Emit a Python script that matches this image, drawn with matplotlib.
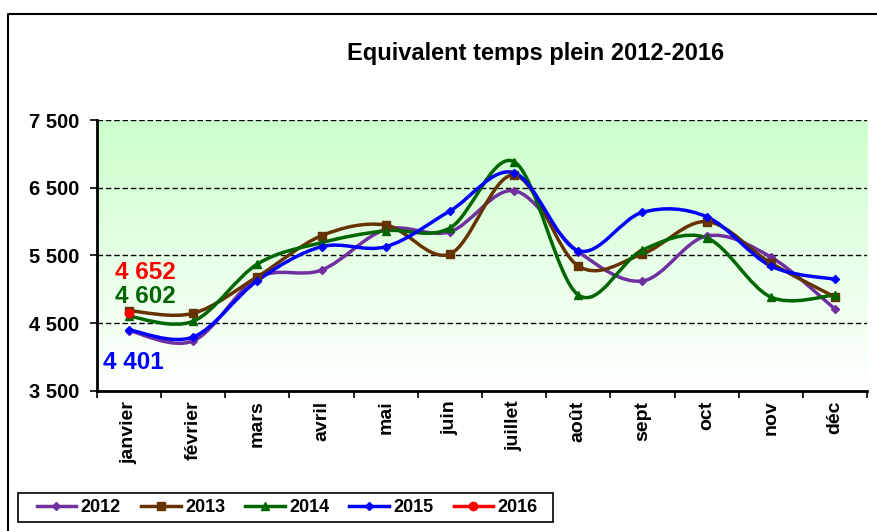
import numpy as np
import matplotlib
matplotlib.use("Agg")
import matplotlib.pyplot as plt
from matplotlib.path import Path
from matplotlib.patches import PathPatch, Rectangle
from matplotlib.lines import Line2D
from matplotlib.colors import LinearSegmentedColormap

plt.rcParams['font.family'] = ['Liberation Sans', 'DejaVu Sans']
plt.rcParams['font.weight'] = 'bold'

months = ['janvier', 'février', 'mars', 'avril', 'mai', 'juin',
          'juillet', 'août', 'sept', 'oct', 'nov', 'déc']

etp_2012 = [4390, 4240, 5170, 5285, 5885, 5850, 6456, 5556, 5124, 5788, 5478, 4710]
etp_2013 = [4685, 4647, 5187, 5792, 5950, 5522, 6688, 5345, 5522, 6000, 5389, 4887]
etp_2014 = [4602, 4530, 5374, 5690, 5866, 5906, 6884, 4917, 5580, 5760, 4887, 4917]
etp_2015 = [4401, 4297, 5128, 5630, 5630, 6157, 6722, 5570, 6137, 6073, 5345, 5148]
etp_2016 = [4652]

series = [
    ('2012', etp_2012, '#7030A0', 'D', 4),
    ('2013', etp_2013, '#663300', 's', 6),
    ('2014', etp_2014, '#006600', '^', 6),
    ('2015', etp_2015, '#0000FF', 'D', 4),
    ('2016', etp_2016, '#FF0000', 'o', 6),
]

y_ticks = [3500, 4500, 5500, 6500, 7500]


def smooth_path(xs, ys):
    # Excel-like smoothed line: cubic Bezier through each point
    pts = np.column_stack([xs, ys]).astype(float)
    n = len(pts)
    verts = [pts[0]]
    codes = [Path.MOVETO]
    for i in range(n - 1):
        p0 = pts[i - 1] if i > 0 else pts[i]
        p1 = pts[i]
        p2 = pts[i + 1]
        p3 = pts[i + 2] if i + 2 < n else pts[i + 1]
        c1 = p1 + (p2 - p0) / 6.0
        c2 = p2 - (p3 - p1) / 6.0
        verts += [c1, c2, p2]
        codes += [Path.CURVE4] * 3
    return Path(verts, codes)


fig = plt.figure(figsize=(8.77, 5.31), dpi=100)
ax = fig.add_axes([0.1106, 0.2637, 0.878, 0.5103])

# green -> white background
cmap = LinearSegmentedColormap.from_list('bg', ['#FFFFFF', '#CCFFCC'])
grad = np.linspace(0, 1, 256).reshape(-1, 1)
ax.imshow(grad, cmap=cmap, origin='lower', aspect='auto',
          extent=[-0.5, 11.5, 3500, 7500], zorder=0)

for yv in y_ticks[1:]:
    ax.axhline(yv, color='black', lw=1, ls=(0, (4, 2)), zorder=1)

handles = []
for name, vals, col, mk, ms in series:
    x = np.arange(len(vals))
    if len(vals) > 1:
        ax.add_patch(PathPatch(smooth_path(x, vals), facecolor='none',
                               edgecolor=col, lw=2.5, zorder=3))
    ax.plot(x, vals, ls='none', marker=mk, ms=ms, color=col, zorder=4)
    handles.append(Line2D([], [], color=col, lw=2.5, marker=mk, ms=ms))

ax.set_xlim(-0.5, 11.5)
ax.set_ylim(3500, 7500)

ax.set_xticks(np.arange(-0.5, 12, 1))
ax.set_xticklabels([])
ax.set_xticks(np.arange(12), minor=True)
ax.set_xticklabels(months, minor=True, rotation=90, fontsize=14, fontweight='bold')
ax.tick_params(axis='x', which='major', length=5, width=1.2, direction='out')
ax.tick_params(axis='x', which='minor', length=0, pad=7)

ax.set_yticks(y_ticks)
ax.set_yticklabels([f"{v:,}".replace(',', ' ') for v in y_ticks],
                   fontsize=14.5, fontweight='bold')
ax.tick_params(axis='y', length=5, width=1.2, direction='out', pad=8)

for s in ['top', 'right']:
    ax.spines[s].set_visible(False)
for s in ['left', 'bottom']:
    ax.spines[s].set_linewidth(2)

ax.text(-0.22, 5256, '4 652', color='#FF0000', fontsize=17.5, fontweight='bold',
        ha='left', va='center')
ax.text(-0.22, 4902, '4 602', color='#006600', fontsize=17.5, fontweight='bold',
        ha='left', va='center')
ax.text(-0.41, 3920, '4 401', color='#0000FF', fontsize=17.5, fontweight='bold',
        ha='left', va='center')

fig.text(0.611, 0.9, 'Equivalent temps plein 2012-2016', fontsize=17,
         fontweight='bold', ha='center', va='center')

# outer frame (left and top edges)
fig.add_artist(Line2D([0.0091, 0.0091, 1.0], [0.0, 0.9736, 0.9736],
                      transform=fig.transFigure, color='black', lw=1.5))

# legend box drawn separately, entries placed inside it
fig.add_artist(Rectangle((18 / 877, 9 / 531), 535 / 877, 29 / 531,
                         transform=fig.transFigure, facecolor='white',
                         edgecolor='black', lw=1.2, zorder=5))
leg = fig.legend(handles, [s[0] for s in series], loc='center left',
                 bbox_to_anchor=(33 / 877, 23.5 / 531), borderaxespad=0, ncol=5,
                 frameon=False, handlelength=2.2, columnspacing=1.1,
                 handletextpad=0.25, borderpad=0.2,
                 prop={'weight': 'bold', 'size': 13})
leg.set_zorder(6)

fig.savefig('out.png', dpi=100)
